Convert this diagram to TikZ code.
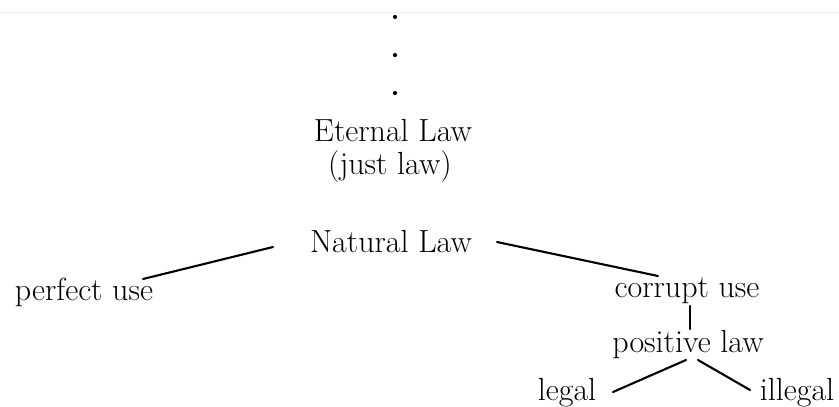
\documentclass[tikz,border=0pt]{standalone}
\begin{document}
\begin{tikzpicture}[x=1pt,y=-1pt,
  lbl/.style={inner sep=0pt,anchor=base,font=\fontsize{32}{38}\selectfont},
  conn/.style={line width=2.1pt,line cap=round},
  dotmark/.style={circle,fill=black,inner sep=0pt,minimum size=4.2pt}]
\useasboundingbox (0,0) rectangle (839,407);
\draw[black!8,line width=1pt] (0,12) -- (839,12);
\node[dotmark] (d1) at (395,17) {};
\node[dotmark] (d2) at (395,55) {};
\node[dotmark] (d3) at (395,93) {};
\node[lbl] (eternal) at (393,141) {Eternal Law};
\node[lbl] (just) at (390,174) {(just law)};
\node[lbl] (natural) at (391,252) {Natural Law};
\node[lbl] (perfect) at (84,300) {perfect use};
\node[lbl] (corrupt) at (687,297) {corrupt use};
\node[lbl] (positive) at (688,352) {positive law};
\node[lbl] (legal) at (567,400) {legal};
\node[lbl] (illegal) at (797,400) {illegal};
\coordinate (nl) at (273,247);
\coordinate (pu) at (143,279);
\coordinate (nr) at (497,242);
\coordinate (cu) at (658,276);
\coordinate (cb) at (690,306);
\coordinate (pt) at (690,329);
\coordinate (pl) at (686,360);
\coordinate (le) at (613,392);
\coordinate (pr) at (698,360);
\coordinate (il) at (750,390);
\draw[conn] (nl) -- (pu);
\draw[conn] (nr) -- (cu);
\draw[conn] (cb) -- (pt);
\draw[conn] (pl) -- (le);
\draw[conn] (pr) -- (il);
\end{tikzpicture}
\end{document}
